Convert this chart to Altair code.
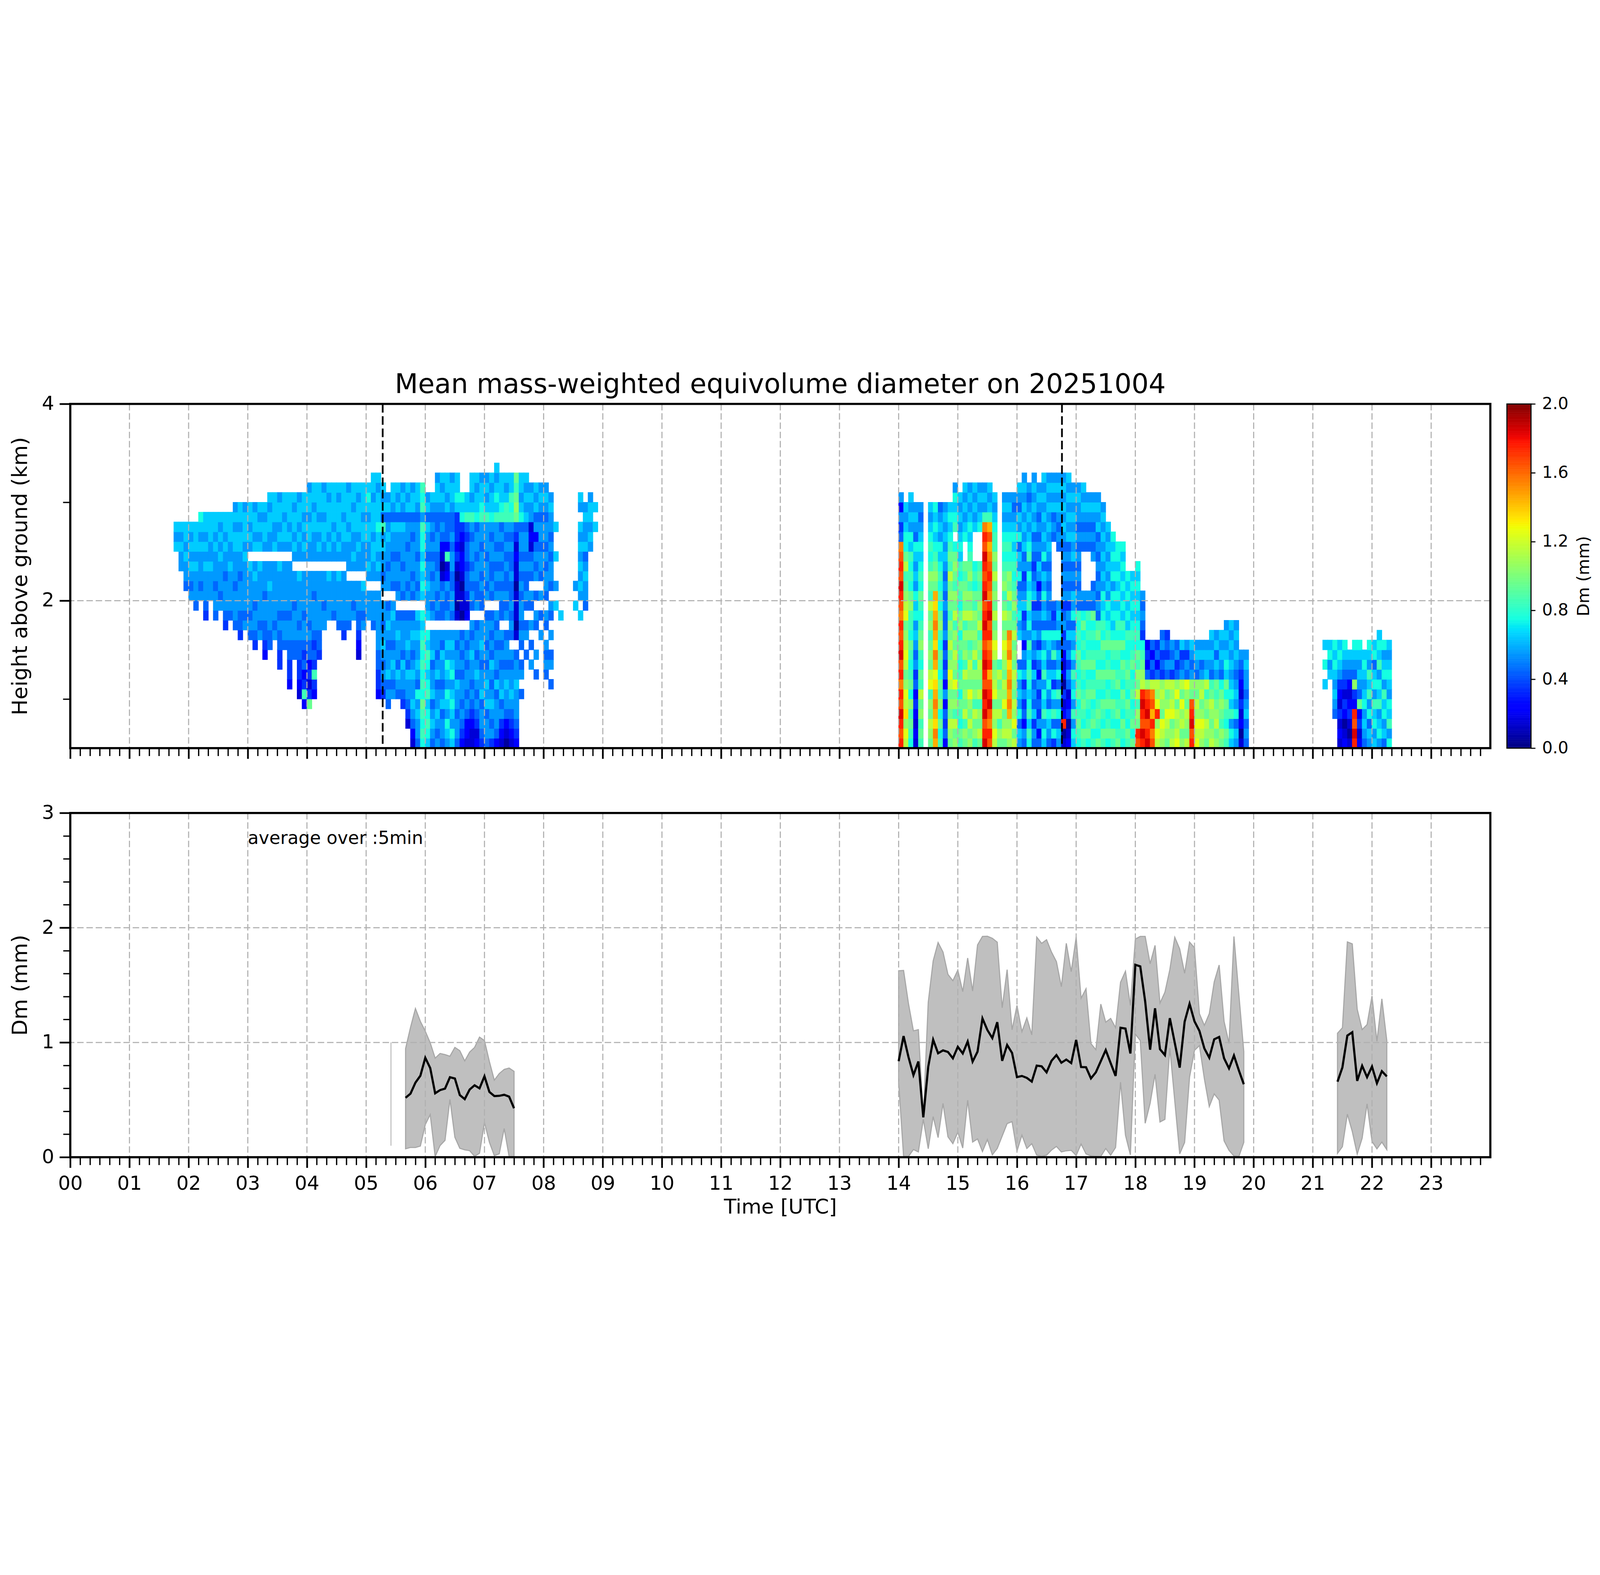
import altair as alt
import pandas as pd

alt.data_transformers.disable_max_rows()

FONT = "DejaVu Sans"
TITLE = "Mean mass-weighted equivolume diameter on 20251004"
X_TITLE = "Time [UTC]"
Y_TOP_TITLE = "Height above ground (km)"
Y_BOT_TITLE = "Dm (mm)"
CB_TITLE = "Dm (mm)"
NOTE = "average over :5min"

# ---------------- axes / ticks ----------------
hours = list(range(24))
x_minor = [h + m / 60 for h in range(24) for m in (10, 20, 30, 40, 50)]
top_y_major = [2, 4]
top_y_minor = [1, 3]
bot_y_major = [0, 1, 2, 3]
bot_y_minor = [0.2, 0.4, 0.6, 0.8, 1.2, 1.4, 1.6, 1.8, 2.2, 2.4, 2.6, 2.8]
cbar_ticks = [0.0, 0.4, 0.8, 1.2, 1.6, 2.0]
grid_top_y = [2]
grid_bot_y = [1, 2]
event_times = [5.28, 16.76]          # dashed black lines (UTC hours)

# ---------------- top panel: Dm(time, height) ----------------
# each string = one 5-min column, chars from 0.5 km upward in 0.1 km cells
# code index i -> Dm = 0.05 + 0.1*i mm ; '.' = no data
DM_CODES = "0123456789ABCDEFGHIJ"
COL_MIN = 5
ROW_BASE = 0.5
ROW_H = 0.1

block_ab_start = 1.75
block_ab = [
    "....................656", "..................55656", "................4556566",
    "...............54565656", "..............455565666", "...............545556567",
    ".............34555656566", "...............555655666", ".............45545556566",
    "..............5455565656", "............345554556566", ".............45555655666",
    "............4555455566565", "...........34455545566566", "............5455555656665",
    "...........45455556.56566", "..........345545565.65665", "...........54555556.65656",
    ".........2344554555.56656", "..........445555655.556656", "...........54555555.655666",
    "........33445455556.565665", "..........455455555.566566", "......2334455455555.565666",
    ".........445554555.5656656", ".....1233445455556.5565665", "....28324345545555.5656566",
    "....93132445455555.55665665", ".....2383434555455.55566566", ".........344555555.56565666",
    "............554555.55665665", ".............55556.56566656", ".............45555.55656666",
    "............455556.56566656", "...........3455555.55665666", "............45555.555656665",
    ".............5455.565566566", ".........12344555.556566656", "............54556.555665666",
    ".............555.5655665676", "............4555.55665666566", ".....23344555555.56566766656",
    # 5:15 onwards (region around the first dashed line and the deep echo)
    ".....3454565455.54556584656", "....45465545654.5545565465", ".....5456545565.45545564566",
    ".....456455654.545545564656", "....3455645554.455455564565", "..134556456554.545554554656",
    "12456556545654.454555454665", "45565745655656.545545554566", "78789787878767.676767785878",
    "678768767867.6556554556465", "456546554655.5455454545456", "545655465455.454554455445665",
    "455465455645.445410124545656", "567567567565.544521824446566", "675676576565.455445545445665",
    "455455645545.101101323336766", "234545545454.0110122123767", "122454554545.2134434434866",
    "1123454556545.45454554586566", "2134545654554.54455455476656", "3455465545655.44545545587665",
    "45546565454554.5455455586565", "35456545645454.4544554576656", "24555464554545.54545455867656",
    "123546554545.445454545487666", "012455654554.545445454588656", "1234565545.45454454454587866",
    "2345556554.1011101121349A989", ".....4.54.454554545455476566", ".........4.54.45445455465656",
    "........5.4.5.45.4541215565", ".......4.5..45.4.5454254656", "...........5.4.5.4554554565",
    ".......4545.45.455454554565", "......4.54.5.45.4554545565", "..............6.5..6..6",
    ".............6", "", "", "..............6.5",
    ".............6.56565656.56", "..............45565465565", "....................565665",
    "......................6.6",
]

block_cd_start = 14.0
block_cd = [
    "HGHIGHFHGIHGHFGHIGHGF43525", "BCADBCA9BCBA9CBA98B977656", "7898A798789788A97878675656",
    "1212324354565767565674565", "898A9B8978A98789787676545", "",
    "9AB9A8CB9A98A9B89A8787656", "EFDEFEDCEFDEFEDE9A9876767", "8797A8978978A978787675654",
    "2434252434354454545656565", "9AB9A9BCA9B9A89A9B8987676", "A9B8A9C9AB9A8B9A89A97.87675",
    "897897987897A9789786765656", "9A8B9A9B8A9A8B9A989..765656", "A9B9AC9AB98A9B9A8A987676565",
    "8A9B8A9A8B9A9A89787...65656", "9B9A8B9AB9A8B9A9898...76565", "IHGIHIGHIHGHIHGIHGHIGHF8565",
    "GHFGIHGEHGFHGIHFGHGFEGE8656", "BCAB9CBA9BCA9B9A9B9A887656", "9A8B9A9B8",
    "9BA9CAB9ABCA9B98A987876565", "ABAEFEFEDFEF9A8B9A87876565", "B9CAB9AB9A9B98A98787676545",
    "564756574..6576547564756456", "4524353645254365435465656565", "786876787685768767587656545",
    "4536454635464536543454656565", "425343524635453425645454565", "6758675867574657564756565656",
    "4567457645674545454565656565", "374857364857434......4546565", "564758475647565.....45456565",
    "10H2130212435435454545656565", "2103214535464535454546565656", "675857685756475645465656565",
    "789879878978784545454545565", "8978987897879745....4545656", "7987898798787845....454565",
    "87987987987879454..5454565", "97898789787984545454546565", "8978978978978767565656565",
    "79879879879876756565656", "8978978978976767576767", "987987987897876767677",
    "789789789797867676767", "897897898778676767", "979879879878767676",
    "GH9A8B9A89787676767", "HIGHIHBA98734545", "IHGIHGA4232",
    "GFHEGFB3424", "BCAHCAB4243", "ABC9ABA34354",
    "9ABCA9B45343", "BA9CBAB3545", "CBAB9CA4354",
    "A9BAC9B5436", "B9AB9AC4535", "HGIHG9A5456",
    "CBCAB9A4565", "ABCA9BA5465", "9AB9A8B6565",
    "BA9AB9845656", "A9BA98956465", "9A89A9745656",
    "8978979676565", "6758676565656", "5647565456565",
    "1021312345", "4546545565",
]

block_e_start = 21 + 10 / 60
block_e = [
    "......6.7.6", ".......6576", "...45656767", "12131235676", "21023134567",
    "1013212456", "HIGH23A4567", "21329456567", "4565765676", "56475868567",
    "65768576476", "576586758676", "46576857657", "75867567656",
]

# ---------------- bottom panel: 5-min mean Dm with spread ----------------
seg_starts = [5 + 40 / 60, 14.0, 21 + 25 / 60]
dm_mean = [
    [0.518, 0.554, 0.650, 0.710, 0.866, 0.777, 0.557, 0.585, 0.598, 0.697, 0.686, 0.542,
     0.506, 0.590, 0.627, 0.600, 0.705, 0.569, 0.533, 0.535, 0.544, 0.528, 0.427],
    [0.837, 1.056, 0.872, 0.715, 0.834, 0.347, 0.788, 1.024, 0.906, 0.931, 0.917, 0.862,
     0.962, 0.904, 1.008, 0.833, 0.920, 1.209, 1.108, 1.038, 1.177, 0.840, 0.978, 0.909,
     0.698, 0.708, 0.691, 0.659, 0.798, 0.792, 0.740, 0.840, 0.890, 0.823, 0.851, 0.820,
     1.022, 0.786, 0.784, 0.687, 0.740, 0.837, 0.934, 0.820, 0.708, 1.128, 1.121, 0.904,
     1.677, 1.663, 1.357, 0.937, 1.298, 0.941, 0.890, 1.212, 0.997, 0.781, 1.181, 1.337,
     1.184, 1.101, 0.948, 0.867, 1.028, 1.048, 0.862, 0.774, 0.886, 0.756, 0.636],
    [0.658, 0.783, 1.060, 1.089, 0.665, 0.797, 0.698, 0.790, 0.645, 0.750, 0.704],
]
dm_hi = [
    [0.946, 1.131, 1.296, 1.184, 1.098, 0.997, 0.863, 0.904, 0.894, 0.880, 0.957, 0.928,
     0.839, 0.916, 0.957, 1.047, 1.016, 0.834, 0.671, 0.729, 0.765, 0.777, 0.748],
    [1.625, 1.628, 1.337, 1.101, 1.112, 0.350, 1.350, 1.711, 1.871, 1.788, 1.593, 1.538,
     1.631, 1.443, 1.736, 1.448, 1.850, 1.924, 1.926, 1.908, 1.874, 1.302, 1.635, 1.110,
     1.323, 1.094, 1.214, 1.066, 1.919, 1.864, 1.895, 1.788, 1.704, 1.486, 1.864, 1.617,
     1.917, 1.385, 1.468, 0.990, 0.937, 1.334, 1.177, 1.209, 1.128, 1.524, 1.621, 1.323,
     1.901, 1.924, 1.924, 1.686, 1.846, 1.343, 1.438, 1.635, 1.917, 1.815, 1.603, 1.875,
     1.825, 1.251, 1.149, 1.251, 1.528, 1.675, 1.184, 0.992, 1.924, 1.420, 0.920],
    [1.080, 1.128, 1.876, 1.859, 1.290, 1.112, 1.156, 1.405, 1.010, 1.380, 1.018],
]
dm_lo = [
    [0.073, 0.085, 0.085, 0.097, 0.284, 0.372, 0.006, 0.102, 0.147, 0.504, 0.174, 0.078,
     0.064, 0.057, 0.008, 0.035, 0.303, 0.131, 0.014, 0.030, 0.250, 0.006, 0.006],
    [0.656, 0.007, 0.007, 0.067, 0.046, 0.330, 0.074, 0.354, 0.171, 0.469, 0.178, 0.118,
     0.219, 0.080, 0.497, 0.132, 0.160, 0.049, 0.154, 0.021, 0.076, 0.185, 0.293, 0.310,
     0.053, 0.192, 0.076, 0.118, 0.018, 0.008, 0.018, 0.062, 0.094, 0.046, 0.056, 0.060,
     0.015, 0.115, 0.029, 0.011, 0.007, 0.007, 0.076, 0.018, 0.085, 0.654, 0.192, 0.021,
     1.073, 1.017, 0.296, 0.469, 0.723, 0.307, 0.330, 0.951, 0.490, 0.029, 0.129, 0.698,
     0.931, 0.973, 0.684, 0.441, 0.552, 0.497, 0.143, 0.060, 0.011, 0.007, 0.129],
    [0.033, 0.092, 0.375, 0.224, 0.027, 0.165, 0.465, 0.138, 0.073, 0.132, 0.066],
]
single_t = [5.42]      # isolated sample drawn as a thin grey bar
single_lo = [0.10]
single_hi = [1.00]
note_x = [3.0]
note_y = [2.73]

# ---------------- build tables ----------------
cells = []
for start, cols in [(block_ab_start, block_ab), (block_cd_start, block_cd), (block_e_start, block_e)]:
    for c, s in enumerate(cols):
        t0 = start + c * COL_MIN / 60
        for r, ch in enumerate(s):
            if ch not in DM_CODES:
                continue
            cells.append({"t0": t0, "t1": t0 + COL_MIN / 60,
                          "h0": ROW_BASE + r * ROW_H, "h1": ROW_BASE + (r + 1) * ROW_H,
                          "dm": 0.05 + 0.1 * DM_CODES.index(ch)})
heat_df = pd.DataFrame(cells)

series = []
for k, st in enumerate(seg_starts):
    for i in range(len(dm_mean[k])):
        series.append({"seg": k, "t": st + i * 5 / 60, "mean": dm_mean[k][i],
                       "lo": dm_lo[k][i], "hi": dm_hi[k][i]})
ser_df = pd.DataFrame(series)
single_df = pd.DataFrame({"t": single_t, "lo": single_lo, "hi": single_hi})
note_df = pd.DataFrame({"x": note_x, "y": note_y, "label": [NOTE]})
dummy = pd.DataFrame({"x": [0.0], "y": [0.5], "y0": [0.0]})
cb_steps = [i / 100 for i in range(200)]
cb_df = pd.DataFrame({"v0": cb_steps, "v1": [v + 0.01 for v in cb_steps],
                      "vm": [v + 0.005 for v in cb_steps]})

# ---------------- styling ----------------
W, H = 6598, 1599
CB_W = 112
GRID = dict(color="#b0b0b0", strokeWidth=5, strokeDash=[30, 13])

jet = alt.Scale(
    domain=[0, 0.22, 0.25, 0.68, 0.70, 0.75, 1.28, 1.30, 1.32, 1.78, 1.82, 2.0],
    range=["#000080", "#0000ff", "#0000ff", "#00dbff", "#00e5f7", "#15ffe2",
           "#eeff08", "#f7f500", "#ffec00", "#ff1300", "#e80000", "#800000"],
    interpolate="rgb", clamp=True)
xs = alt.Scale(domain=[0, 24], nice=False, zero=False)
ys_top = alt.Scale(domain=[0.5, 4.0], nice=False, zero=False)
ys_bot = alt.Scale(domain=[0, 3], nice=False, zero=False)

LABEL_EXPR = "(datum.value < 10 ? '0' : '') + datum.value"


def x_major(show, title=None):
    return alt.Axis(values=hours, orient="bottom", labels=show, labelExpr=LABEL_EXPR,
                    labelFontSize=90, labelFont=FONT, labelColor="black", labelPadding=30,
                    labelFlush=False, labelOverlap=False, tickSize=49, tickWidth=8,
                    tickColor="black", domain=False, grid=False, title=title,
                    titleFontSize=95, titleFont=FONT, titleFontWeight="normal",
                    titleColor="black", titlePadding=18)


def x_minor_axis():
    return alt.Axis(values=x_minor, orient="bottom", labels=False, tickSize=36, tickWidth=6,
                    tickColor="black", domain=False, grid=False, title=None)


def y_major(vals, title):
    return alt.Axis(values=vals, orient="left", labelFontSize=90, labelFont=FONT,
                    labelColor="black", labelPadding=25, labelFlush=False, labelOverlap=False,
                    tickSize=50, tickWidth=8, tickColor="black", domain=False, grid=False,
                    title=title, titleFontSize=98, titleFont=FONT, titleFontWeight="normal",
                    titleColor="black", titlePadding=48, format="d")


def y_minor_axis(vals, size):
    return alt.Axis(values=vals, orient="left", labels=False, tickSize=size, tickWidth=6,
                    tickColor="black", domain=False, grid=False, title=None)


def frame(w, h, sw):
    return alt.Chart(dummy).mark_rect(filled=False, stroke="black", strokeWidth=sw).encode(
        x=alt.value(0), x2=alt.value(w), y=alt.value(0), y2=alt.value(h))


# ---------------- top panel ----------------
heat = alt.Chart(heat_df).mark_rect(strokeWidth=2).encode(
    x=alt.X("t0:Q", scale=xs, axis=x_major(False)),
    x2="t1:Q",
    y=alt.Y("h0:Q", scale=ys_top, axis=y_major(top_y_major, Y_TOP_TITLE)),
    y2="h1:Q",
    color=alt.Color("dm:Q", scale=jet, legend=None),
    stroke=alt.Stroke("dm:Q", scale=jet, legend=None),
)
vgrid_top = alt.Chart(pd.DataFrame({"h": hours})).mark_rule(**GRID).encode(
    x=alt.X("h:Q", scale=xs, axis=None))
hgrid_top = alt.Chart(pd.DataFrame({"g": grid_top_y})).mark_rule(**GRID).encode(
    y=alt.Y("g:Q", scale=ys_top, axis=None))
events = alt.Chart(pd.DataFrame({"t": event_times})).mark_rule(
    color="black", strokeWidth=8, strokeDash=[40, 17]).encode(
    x=alt.X("t:Q", scale=xs, axis=None))
minor_top = alt.Chart(dummy).mark_point(opacity=0).encode(
    x=alt.X("x:Q", scale=xs, axis=x_minor_axis()),
    y=alt.Y("y:Q", scale=ys_top, axis=y_minor_axis(top_y_minor, 34)),
)
top = alt.layer(heat, vgrid_top, hgrid_top, events, minor_top, frame(W, H, 10)).resolve_axis(
    x="independent", y="independent").properties(
    width=W, height=H,
    title=alt.TitleParams(TITLE, fontSize=125, font=FONT, fontWeight="normal", color="black",
                          anchor="middle", frame="group", baseline="alphabetic", offset=-120))

# ---------------- colorbar ----------------
cb_scale = alt.Scale(domain=[0, 2], nice=False, zero=False)
cbar_rects = alt.Chart(cb_df).mark_rect(strokeWidth=1).encode(
    x=alt.value(0), x2=alt.value(CB_W),
    y=alt.Y("v0:Q", scale=cb_scale, axis=alt.Axis(
        values=cbar_ticks, orient="right", format=".1f", labelFontSize=77, labelFont=FONT,
        labelColor="black", labelPadding=31, labelFlush=False, labelOverlap=False,
        tickSize=20, tickWidth=5, tickColor="black", domain=False, grid=False,
        title=CB_TITLE, titleFontSize=78, titleFont=FONT, titleFontWeight="normal",
        titleColor="black", titleAngle=270, titleBaseline="top", titlePadding=34)),
    y2="v1:Q",
    color=alt.Color("vm:Q", scale=jet, legend=None),
    stroke=alt.Stroke("vm:Q", scale=jet, legend=None),
)
cbar = alt.layer(cbar_rects, frame(CB_W, H, 5)).properties(width=CB_W, height=H)

# ---------------- bottom panel ----------------
band = alt.Chart(ser_df).mark_area(fill="#bfbfbf", stroke="#a6a6a6", strokeWidth=5).encode(
    x=alt.X("t:Q", scale=xs, axis=x_major(True, X_TITLE)),
    y=alt.Y("lo:Q", scale=ys_bot, axis=y_major(bot_y_major, Y_BOT_TITLE)),
    y2="hi:Q",
    detail="seg:N",
)
vgrid_bot = alt.Chart(pd.DataFrame({"h": hours})).mark_rule(**GRID).encode(
    x=alt.X("h:Q", scale=xs, axis=None))
hgrid_bot = alt.Chart(pd.DataFrame({"g": grid_bot_y})).mark_rule(**GRID).encode(
    y=alt.Y("g:Q", scale=ys_bot, axis=None))
single = alt.Chart(single_df).mark_rule(color="#bfbfbf", strokeWidth=5).encode(
    x=alt.X("t:Q", scale=xs, axis=None),
    y=alt.Y("lo:Q", scale=ys_bot, axis=None), y2="hi:Q")
mean_line = alt.Chart(ser_df).mark_line(color="black", strokeWidth=10).encode(
    x=alt.X("t:Q", scale=xs, axis=None),
    y=alt.Y("mean:Q", scale=ys_bot, axis=None),
    detail="seg:N",
)
note = alt.Chart(note_df).mark_text(align="left", baseline="alphabetic", fontSize=83,
                                    font=FONT, color="black").encode(
    x=alt.X("x:Q", scale=xs, axis=None), y=alt.Y("y:Q", scale=ys_bot, axis=None),
    text="label:N")
minor_bot = alt.Chart(dummy).mark_point(opacity=0).encode(
    x=alt.X("x:Q", scale=xs, axis=x_minor_axis()),
    y=alt.Y("y0:Q", scale=ys_bot, axis=y_minor_axis(bot_y_minor, 33)),
)
bottom = alt.layer(band, vgrid_bot, hgrid_bot, single, mean_line, note, minor_bot,
                   frame(W, H, 10)).resolve_axis(x="independent", y="independent").properties(
    width=W, height=H)

chart = alt.concat(top, cbar, bottom, columns=2, spacing={"row": 301, "column": 77},
                   bounds="flush").properties(
    padding={"left": 32, "top": 73, "right": 20, "bottom": 20},
    background="white",
).configure_view(strokeWidth=0)

chart.save("out.html", embed_options={"renderer": "svg", "actions": False})
